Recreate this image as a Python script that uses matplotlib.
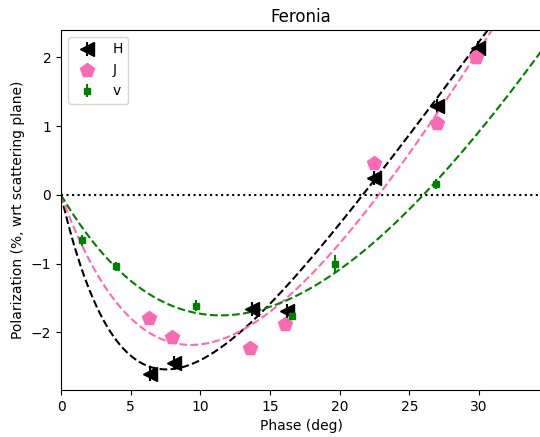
import matplotlib
matplotlib.use('Agg')
import matplotlib.pyplot as plt
import numpy as np

# phase angle (deg), polarization (%), error
phase_H = [6.4, 8.1, 13.7, 16.2, 22.5, 27.0, 29.9]
pol_H = [-2.60, -2.44, -1.66, -1.69, 0.25, 1.29, 2.14]
err_H = [0.10, 0.10, 0.10, 0.10, 0.10, 0.10, 0.10]

phase_J = [6.3, 8.0, 13.6, 16.1, 22.5, 27.0, 29.8]
pol_J = [-1.79, -2.07, -2.23, -1.87, 0.47, 1.04, 2.00]
err_J = [0.08, 0.08, 0.08, 0.08, 0.08, 0.08, 0.08]

phase_v = [1.5, 3.95, 9.7, 16.6, 19.7, 26.9]
pol_v = [-0.66, -1.04, -1.61, -1.76, -1.01, 0.16]
err_v = [0.08, 0.07, 0.08, 0.06, 0.13, 0.07]

# linear-exponential fit parameters (A, B, C)
fit_H = (6.09, 5.3, 0.2765)
fit_J = (9.115, 10.0, 0.3589)
fit_v = (13.05, 18.0, 0.3835)


def linexp(a, A, B, C):
    return A * (np.exp(-a / B) - 1) + C * a


fig = plt.figure(figsize=(5.4, 4.37), dpi=100)
ax = fig.add_axes([0.113, 0.1076, 0.889, 0.8238])

ax.errorbar(phase_H, pol_H, yerr=err_H, fmt='<', color='k', ms=10, label='H')
ax.errorbar(phase_J, pol_J, yerr=err_J, fmt='p', color='hotpink', ms=10, label='J')
ax.errorbar(phase_v, pol_v, yerr=err_v, fmt='s', color='green', ms=4.5, label='v')

a = np.linspace(0, 35, 300)
ax.plot(a, linexp(a, *fit_H), '--', color='k')
ax.plot(a, linexp(a, *fit_J), '--', color='hotpink')
ax.plot(a, linexp(a, *fit_v), '--', color='green')

ax.axhline(0, color='k', ls=':')

ax.set_xlim(0, 34.46)
ax.set_ylim(-2.836, 2.40)
ax.set_xlabel('Phase (deg)')
ax.set_ylabel('Polarization (%, wrt scattering plane)')
ax.set_title('Feronia')
ax.legend(loc='upper left')

plt.savefig('out.png')
